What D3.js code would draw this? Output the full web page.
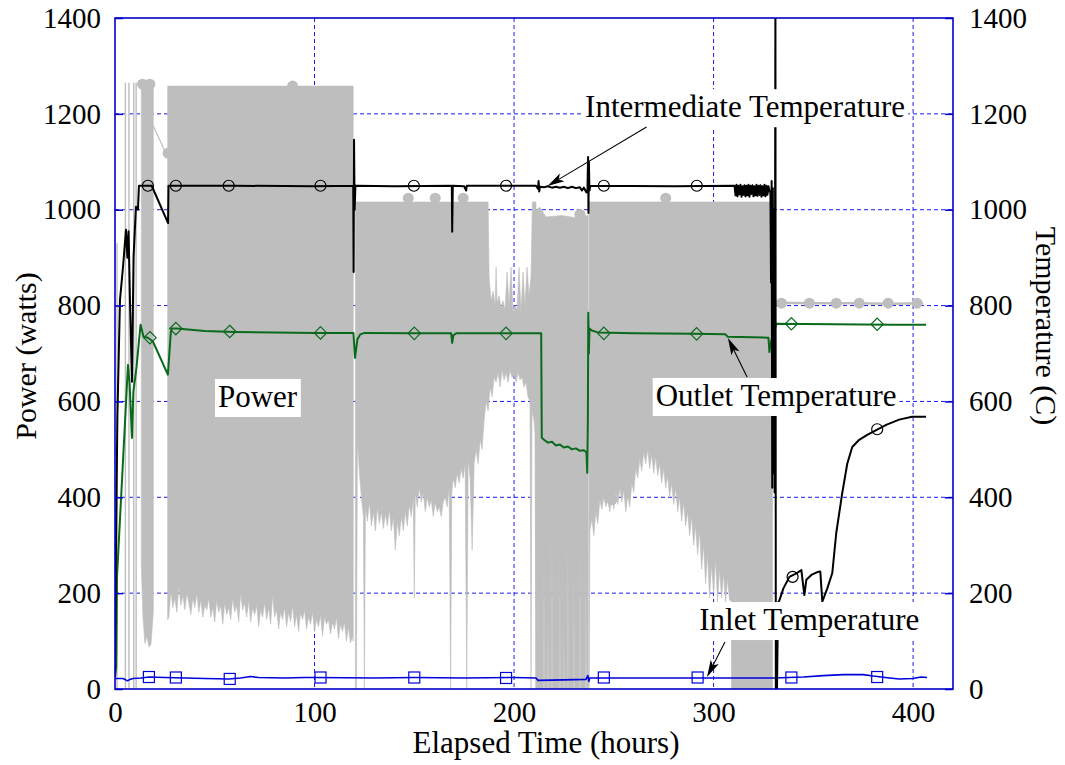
<!DOCTYPE html>
<html><head><meta charset="utf-8">
<script src="https://cdn.jsdelivr.net/npm/d3@7"></script>
<style>
body{margin:0;background:#fff}
svg{display:block}
text{font-family:"Liberation Serif","Times New Roman",serif}
</style>
</head><body>
<svg id="chart" width="1065" height="765"></svg>
<script>
// ---------------- DATA ----------------
const xTicks = [0, 100, 200, 300, 400];
const yTicks = [0, 200, 400, 600, 800, 1000, 1200, 1400];
const gridHours = [100, 200, 300, 400];
const gridValues = [200, 400, 600, 800, 1000, 1200];

// Power (watts): dense oscillating signal drawn as its upper / lower envelope per block
const powerTopB = [[13.2,1265],[19.2,1265]];
const powerBottomB = [[13.2,260],[14,150],[15,95],[16,110],[17,88],[18,92],[19.2,160]];
const powerBridge = [[19.2,1175],[26.3,1110]];
const powerTopC = [[26.4,1258],[119.4,1258]];
const powerBottomC = [[26.4,144],[27,150],[28,205],[29,170],[30,190],[31,160],[32,215],[33,175],[34,195],[35,165],[36,200],[37,180],[38,155],[39,190],[40,170],[41,200],[42,160],[43,185],[44,150],[45,175],[46,165],[47,190],[48,150],[49,170],[50,140],[51,185],[52,160],[53,175],[54,135],[55,180],[56,155],[57,170],[58,145],[59,190],[60,160],[61,175],[62,140],[63,200],[64,165],[65,180],[66,150],[67,185],[68,140],[69,170],[70,155],[71,175],[72,130],[73,165],[74,150],[75,180],[76,145],[77,170],[78,135],[79,195],[80,150],[81,165],[82,125],[83,160],[84,145],[85,170],[86,130],[87,160],[88,140],[89,175],[90,130],[91,155],[92,120],[93,160],[94,145],[95,165],[96,125],[97,150],[98,135],[99,160],[100,120],[101,145],[102,130],[103,155],[104,110],[105,150],[106,135],[107,145],[108,115],[109,140],[110,125],[111,150],[112,105],[113,135],[114,120],[115,140],[116,100],[117,130],[118,96],[119,110],[119.4,100]];
const powerTopD = [[120.5,1016],[187,1016],[187.5,860],[188.5,810],[189.5,830],[190.5,800],[191,880],[191.5,805],[192.5,820],[193.5,795],[194.5,810],[195.5,790],[196.5,870],[197.5,800],[198.5,880],[199.5,785],[200.5,800],[201.5,790],[202.5,880],[203.5,785],[204.5,870],[205.5,800],[206.5,880],[207.5,820],[208.5,860],[209.2,1016],[211,1016]];
const powerBottomD = [[120.5,0],[121,0],[121.5,520],[122.5,450],[123.5,400],[124.5,360],[125,0],[125.5,380],[126.5,350],[127.5,390],[128.5,340],[129.5,370],[130.5,330],[131.5,380],[132.5,345],[133.5,370],[134.5,335],[135.5,365],[136.5,340],[137.5,375],[138.5,330],[139.5,360],[140.5,290],[141.5,350],[142.5,320],[143.5,360],[144.5,330],[145.5,370],[146.5,340],[147.5,385],[148.5,360],[149.5,400],[150,190],[150.5,410],[151.5,380],[152.5,420],[153.5,390],[154.5,410],[155.5,370],[156.5,400],[157.5,380],[158.5,395],[159.5,360],[160.5,390],[161.5,370],[162.5,380],[163.5,360],[164.5,390],[165.5,400],[166.5,380],[167.5,420],[168.2,0],[168.8,410],[169.5,440],[170.5,420],[171.5,450],[172.5,430],[173.5,460],[174.5,440],[175.5,470],[176.3,0],[177,480],[178,440],[179,290],[180,470],[181,500],[182,470],[183,520],[184,500],[185,560],[186,600],[187,580],[188,630],[189,610],[190,650],[191,640],[192,660],[193,630],[194,665],[195,645],[196,660],[197,640],[198,665],[199,650],[200,655],[201,640],[202,660],[203,645],[204,650],[205,630],[206,640],[207,610],[208,600],[208.5,0],[209,580],[210,560],[210.5,534],[211,0]];
const powerTopE = [[211,1000],[213,1005],[216,985],[224,988],[230,984],[237.2,988]];
const powerBottomE = [[211,0],[214.8,0],[215,300],[215.2,0],[216.8,0],[217,180],[217.2,0],[218.8,0],[219,340],[219.2,0],[222.8,0],[223,300],[223.2,0],[224.8,0],[225,150],[225.2,0],[226.8,0],[227,330],[227.2,0],[229.8,0],[230,280],[230.2,0],[232.8,0],[233,350],[233.2,0],[235.8,0],[236,300],[236.2,0],[237.2,0]];
const powerTopF = [[237.6,1016],[329.5,1016]];
const powerBottomF = [[237.6,0],[238,330],[239,355],[240,320],[241,370],[242,345],[243,395],[244,375],[245,400],[246,380],[247,395],[248,370],[249,400],[250,375],[251,410],[252,385],[253,420],[254,390],[255,415],[256,370],[257,405],[258,380],[259,430],[260,410],[261,460],[262,440],[263,480],[264,455],[265,495],[266,470],[267,500],[268,460],[269,490],[270,450],[271,485],[272,445],[273,470],[274,430],[275,460],[276,420],[277,445],[278,400],[279,430],[280,385],[281,420],[282,370],[283,400],[284,350],[285,390],[286,340],[287,370],[288,320],[289,360],[290,300],[291,340],[292,280],[293,330],[294,250],[295,300],[296,220],[297,280],[298,190],[299,260],[300,200],[301,270],[302,180],[303,250],[304,190],[305,240],[306,180],[307,230],[308,185],[308.8,185],[309,0],[329.5,0]];
const powerSpikeHours = [1.0, 5.2, 7.0, 9.4, 10.6];
const powerSpikeTops = [930, 1265, 1265, 1265, 1265];
const powerLate = [[331.5,806],[350,805],[370,805],[390,804],[405,805]];
const powerMarkHours = [13.8, 17.5, 26.6, 89, 147, 160.5, 174.5, 233, 249, 276, 334, 348, 361.5, 373, 387.5, 402];
const powerMarkValues = [1262, 1262, 1118, 1258, 1024, 1024, 1024, 990, 395, 1024, 805, 805, 805, 805, 805, 805];

// Intermediate temperature (C)
const interHours = [0,0.5,1.2,2.5,4,5.5,6.2,6.8,7.5,8.5,9.3,10.5,11.5,12,18.4,26.6,26.8,60,100,119.4,119.6,119.8,120.1,120.5,140,168.8,169,169.3,175,176,176.3,211,212,212.3,212.6,213,215,217,219,221,223,225,227,229,231,233,234,235,236.3,236.8,237.1,237.3,237.5,237.8,238.2,280,310.5,311,311.5,312,312.5,313,313.5,314,314.5,315,315.5,316,316.5,317,317.5,318,318.5,319,319.5,320,320.5,321,321.5,322,322.5,323,323.5,324,324.5,325,325.5,326,326.5,327,327.5,328,328.5,328.8,329.1,329.4,329.7,330,330.3,330.6,331,331.2,331.8,332.3,333,335,338,341,344,345.5,346.5,349,352,353.5,354.5,357,359.5,361.5,364.5,367,369.5,373,377,382,386.5,393,399.5,406.5];
const interValues = [25,300,570,812,880,958,900,955,812,641,901,1006,1000,1050,1050,972,1050,1050,1049,1050,870,1146,1000,1050,1049,1050,954,1050,1049,1040,1050,1050,1044,1060,1038,1048,1047,1049,1046,1048,1046,1048,1045,1048,1045,1047,1040,1046,1036,1042,1110,993,1100,1040,1050,1049,1050,1030,1052,1028,1050,1032,1052,1027,1049,1031,1051,1028,1050,1030,1052,1027,1050,1033,1051,1028,1049,1030,1052,1029,1050,1031,1051,1027,1049,1030,1052,1028,1050,1031,1049,1040,1035,848,1060,420,1045,450,1000,410,1460,0,0,180,185,210,234,240,248,196,228,238,244,245,182,210,242,326,409,470,505,520,530,541,551,562,568,568];
const interMarkHours = [16.5, 30.5, 57, 103, 149.8, 196, 245, 291.6, 339.6, 382];
const interMarkValues = [1050, 1050, 1050, 1050, 1050, 1050, 1050, 1050, 234, 542];

// Outlet temperature (C)
const outHours = [0,0.6,1,6.5,7.3,8.5,9.2,10.8,12.8,14.3,16.5,19,26.5,28,28.5,31,45,60,80,100,119.5,120.3,121.5,123,125,150,168.5,169,169.6,171,211,213.6,213.9,215,217,219,221,223,225,227,229,231,233,235,236.3,236.7,237,237.2,237.5,237.8,239,242,260,290,306,307,320,327.5,328,328.8,331.5,360,390,406.5];
const outValues = [25,46,234,676,639,524,620,672,760,735,733,725,656,745,752,752,747,745,744,743,743,691,730,740,743,742,742,722,738,742,742,742,524,520,514,516,508,510,504,506,500,502,497,498,494,451,560,785,700,752,748,744,742,741,740,735,734,733,703,725,762,761,760,760];
const outMarkHours = [17.5, 30.5, 57.5, 103, 150, 196, 245, 291.5, 339, 382];
const outMarkValues = [733, 752, 746, 743, 742, 742, 742, 741, 762, 761];

// Inlet temperature (C)
const inHours = [0,4,6.3,7.5,9,13,17,25,35,45,57,63,68,72,85,95,100,130,150,175,200,211,212,225,236,237,237.5,238,270,300,330,345,355,365,375,380,386,393,400,404,407];
const inValues = [22,22,17,20,22,23,25,24,23,22,21,23,26,24,23,24,24,23,24,23,24,23,18,19,20,28,16,23,23,23,23,25,28,30,30,27,24,21,22,25,24];
const inMarkHours = [17, 30.5, 57.5, 103, 150, 196, 245, 292, 339, 382];
const inMarkValues = [25, 24, 21, 24, 24, 23, 24, 24, 24, 25];

// Annotations (data units)
const labelTexts = ["Intermediate Temperature", "Outlet Temperature", "Inlet Temperature", "Power"];
const labelHours = [235.6, 271.0, 292.8, 51.6];
const labelValues = [1193, 590.5, 123, 588.4];
const arrowFrom = [[266.4,1172.6],[316.8,651],[305.7,98]];
const arrowTo = [[216.8,1049.4],[307.2,732.3],[296.7,25]];

// ---------------- DRAW ----------------
const L = 115, R = 953, T = 18, B = 689;
const FONT = '"Liberation Serif","Times New Roman",serif';
const GRAY = "#bebebe", GREEN = "#0a6a1c", BLUE = "#0000dd", FRAME = "#0000cc";

const svg = d3.select("#chart");
const x = d3.scaleLinear().domain([0, 420]).range([L, R]);
const y = d3.scaleLinear().domain([0, 1400]).range([B, T]);

svg.append("defs").append("clipPath").attr("id", "plot")
  .append("rect").attr("x", L).attr("y", T).attr("width", R - L).attr("height", B - T);

// grid
const grid = svg.append("g").attr("stroke", "#1a1aee").attr("stroke-width", 1).attr("stroke-dasharray", "4,3");
grid.selectAll(".gv").data(gridHours).join("line")
  .attr("x1", d => x(d)).attr("x2", d => x(d)).attr("y1", T).attr("y2", B);
grid.selectAll(".gh").data(gridValues).join("line")
  .attr("x1", L).attr("x2", R).attr("y1", d => y(d)).attr("y2", d => y(d));

const plot = svg.append("g").attr("clip-path", "url(#plot)");
const line = d3.line().x(d => x(d[0])).y(d => y(d[1]));
const poly = (top, bottom) => line(top.concat(bottom.slice().reverse())) + "Z";

// power envelope blocks
[[powerTopB, powerBottomB], [powerTopC, powerBottomC], [powerTopD, powerBottomD],
 [powerTopE, powerBottomE], [powerTopF, powerBottomF]].forEach(([t, b]) => {
  plot.append("path").attr("d", poly(t, b)).attr("fill", GRAY)
    .attr("stroke", GRAY).attr("stroke-width", 0.6).attr("stroke-linejoin", "bevel");
});
plot.selectAll(".spike").data(powerSpikeHours).join("line")
  .attr("x1", d => x(d)).attr("x2", d => x(d))
  .attr("y1", y(0)).attr("y2", (d, i) => y(powerSpikeTops[i]))
  .attr("stroke", GRAY).attr("stroke-width", 1.4);
plot.append("path").attr("d", line(powerBridge)).attr("fill", "none").attr("stroke", GRAY).attr("stroke-width", 1.2);
plot.append("path").attr("d", line(powerLate)).attr("fill", "none").attr("stroke", GRAY).attr("stroke-width", 2.5);
plot.selectAll(".pm").data(powerMarkHours).join("circle")
  .attr("cx", d => x(d)).attr("cy", (d, i) => y(powerMarkValues[i])).attr("r", 5.5).attr("fill", GRAY);

// temperature lines
const series = (hours, vals) => hours.map((h, i) => [h, vals[i]]);
plot.append("path").attr("d", line(series(inHours, inValues))).attr("fill", "none")
  .attr("stroke", BLUE).attr("stroke-width", 1.6).attr("stroke-linejoin", "round");
plot.append("path").attr("d", line(series(outHours, outValues))).attr("fill", "none")
  .attr("stroke", GREEN).attr("stroke-width", 2).attr("stroke-linejoin", "round");
plot.append("path").attr("d", line(series(interHours, interValues))).attr("fill", "none")
  .attr("stroke", "#000").attr("stroke-width", 2).attr("stroke-linejoin", "round");

// markers
plot.selectAll(".im").data(interMarkHours).join("circle")
  .attr("cx", d => x(d)).attr("cy", (d, i) => y(interMarkValues[i])).attr("r", 5.5)
  .attr("fill", "none").attr("stroke", "#000").attr("stroke-width", 1.2);
plot.selectAll(".om").data(outMarkHours).join("path")
  .attr("d", (d, i) => { const cx = x(d), cy = y(outMarkValues[i]), r = 6.2;
    return `M${cx},${cy - r}L${cx + r},${cy}L${cx},${cy + r}L${cx - r},${cy}Z`; })
  .attr("fill", "none").attr("stroke", GREEN).attr("stroke-width", 1.2);
plot.selectAll(".sm").data(inMarkHours).join("rect")
  .attr("x", d => x(d) - 5.5).attr("y", (d, i) => y(inMarkValues[i]) - 5.5)
  .attr("width", 11).attr("height", 11)
  .attr("fill", "none").attr("stroke", BLUE).attr("stroke-width", 1.2);

// annotation labels with white backgrounds
const ann = svg.append("g");
labelTexts.forEach((txt, i) => {
  const g = ann.append("g");
  const rect = g.append("rect").attr("fill", "#fff");
  const t = g.append("text").attr("x", x(labelHours[i])).attr("y", y(labelValues[i]))
    .style("font-family", FONT).attr("font-size", 31).attr("fill", "#000").text(txt);
  const bb = t.node().getBBox();
  rect.attr("x", bb.x - 3).attr("y", bb.y).attr("width", bb.width + 6).attr("height", bb.height + 3);
});
// arrows
arrowFrom.forEach((f, i) => {
  const x1 = x(f[0]), y1 = y(f[1]), x2 = x(arrowTo[i][0]), y2 = y(arrowTo[i][1]);
  const dx = x2 - x1, dy = y2 - y1, len = Math.hypot(dx, dy), ux = dx / len, uy = dy / len;
  const hl = 17, hw = 4.5, bx = x2 - ux * hl, by = y2 - uy * hl;
  ann.append("line").attr("x1", x1).attr("y1", y1).attr("x2", bx + ux * 4).attr("y2", by + uy * 4)
    .attr("stroke", "#000").attr("stroke-width", 1.1);
  ann.append("path")
    .attr("d", `M${x2},${y2}L${bx - uy * hw},${by + ux * hw}L${bx + ux * 4},${by + uy * 4}L${bx + uy * hw},${by - ux * hw}Z`)
    .attr("fill", "#000");
});

// frame
svg.append("rect").attr("x", L).attr("y", T).attr("width", R - L).attr("height", B - T)
  .attr("fill", "none").attr("stroke", FRAME).attr("stroke-width", 1.6);

// axes
const styleAxis = g => {
  g.select(".domain").remove();
  g.attr("font-size", 29);
  g.selectAll("line").attr("stroke", FRAME).attr("stroke-width", 1.5);
  g.selectAll("text").style("font-family", FONT).attr("fill", "#000");
};
svg.append("g").attr("transform", `translate(${L},0)`)
  .call(d3.axisLeft(y).tickValues(yTicks).tickSize(-8).tickPadding(14).tickFormat(d3.format("d")))
  .call(styleAxis);
svg.append("g").attr("transform", `translate(${R},0)`)
  .call(d3.axisRight(y).tickValues(yTicks).tickSize(-8).tickPadding(16).tickFormat(d3.format("d")))
  .call(styleAxis);
svg.append("g").attr("transform", `translate(0,${B})`)
  .call(d3.axisBottom(x).tickValues(xTicks).tickSize(0).tickPadding(12).tickFormat(d3.format("d")))
  .call(styleAxis);

// axis titles
svg.append("text").attr("x", (L + R) / 2 + 12).attr("y", 753).attr("text-anchor", "middle")
  .style("font-family", FONT).attr("font-size", 31).text("Elapsed Time (hours)");
svg.append("text").attr("transform", "translate(36,356) rotate(-90)").attr("text-anchor", "middle")
  .style("font-family", FONT).attr("font-size", 30).text("Power (watts)");
svg.append("text").attr("transform", "translate(1036,326) rotate(90)").attr("text-anchor", "middle")
  .style("font-family", FONT).attr("font-size", 30).text("Temperature (C)");
</script>
</body></html>
